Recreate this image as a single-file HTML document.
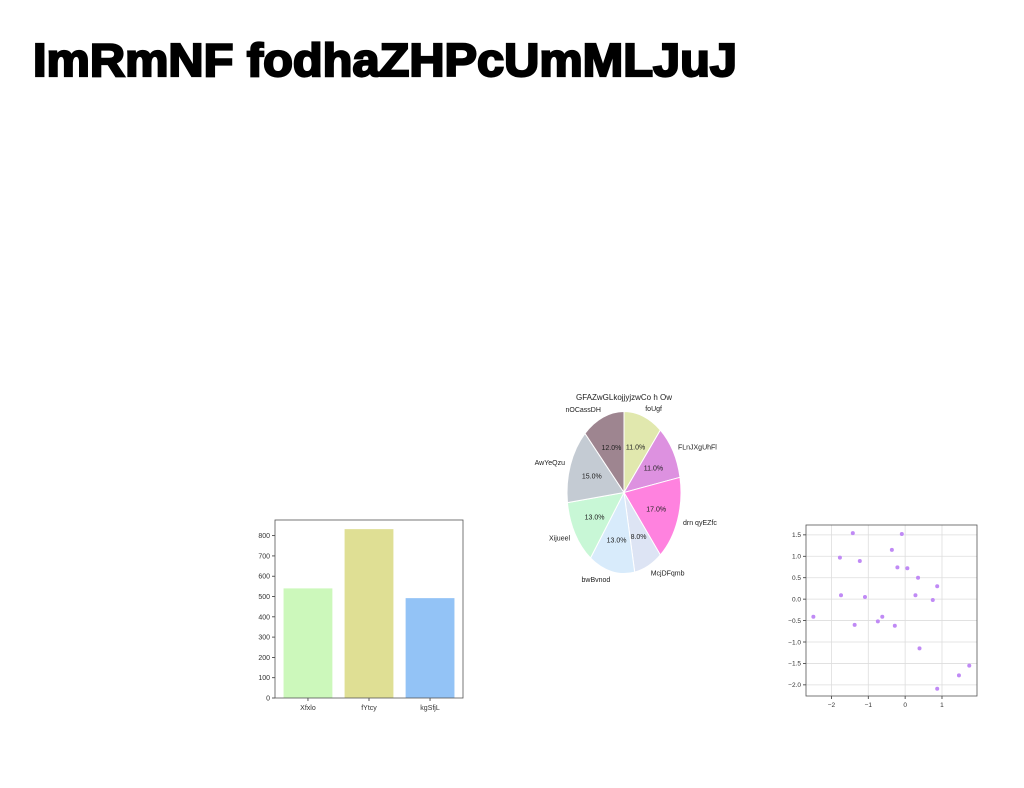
<!DOCTYPE html>
<html><head><meta charset="utf-8"><style>
body{margin:0;background:#fff;}
svg{display:block;font-family:"Liberation Sans",sans-serif;}
</style></head><body>
<svg width="1024" height="788" viewBox="0 0 1024 788">
<text x="33" y="76" font-size="46" font-weight="bold" stroke="#000" stroke-width="2.2" textLength="704" lengthAdjust="spacingAndGlyphs">ImRmNF fodhaZHPcUmMLJuJ</text>
<g id="bar"></g>
<g id="pie"></g>
<g id="sc"></g>
</svg>
<script>
const barCats=["Xfxlo","fYtcy","kgSfjL"];
const barVals=[540,832,492];
const barColors=["#ccf8bb","#dfdf94","#93c3f6"];
const barTicks=[0,100,200,300,400,500,600,700,800];
const pieLabels=["foUgf","FLnJXgUhFl","drn qyEZfc","McjDFqmb","bwBvnod","Xijueel","AwYeQzu","nOCassDH"];
const pieVals=[11,11,17,8,13,13,15,12];
const pieColors=["#e1e8ae","#dd91e0","#ff82df","#dde4f4","#d8ebfb","#c8f7d6","#c4cbd3","#9e8590"];
const scX=[-2.49,-1.77,-1.74,-1.42,-1.37,-1.23,-1.09,-0.74,-0.62,-0.36,-0.28,-0.21,-0.09,0.06,0.28,0.35,0.39,0.75,0.87,0.87,1.46,1.74];
const scY=[-0.41,0.97,0.09,1.54,-0.60,0.89,0.05,-0.52,-0.41,1.15,-0.62,0.74,1.52,0.72,0.09,0.50,-1.15,-0.02,0.30,-2.09,-1.78,-1.55];
const scXTicks=[-2,-1,0,1];
const scYTicks=[-2.0,-1.5,-1.0,-0.5,0.0,0.5,1.0,1.5];
const NS="http://www.w3.org/2000/svg";
function mk(p,t,a,txt){const e=document.createElementNS(NS,t);for(const k in a)e.setAttribute(k,a[k]);if(txt!==undefined)e.textContent=txt;p.appendChild(e);return e;}
// Bar chart
(function(){
const g=document.getElementById('bar');
const L=275,R=463,T=520,B=698;
const xs=i=>L+(i+0.54)*(R-L)/3.08;
const ys=v=>B-v*(B-T)/877;
const bw=0.8*(R-L)/3.08;
barTicks.forEach(t=>{
 const y=ys(t);
 const l=mk(g,'line',{x1:L-3,x2:L,y1:y,y2:y,stroke:'#333','stroke-width':0.8});
 
 
 const tx=mk(g,'text',{x:L-5,y:y+2.5,'font-size':7,'text-anchor':'end',fill:'#333'},String(t));
 
 
});
barVals.forEach((v,i)=>{
 const r=mk(g,'rect',{x:xs(i)-bw/2,y:ys(v),width:bw,height:B-ys(v),fill:barColors[i]});
 
 
 mk(g,'line',{x1:xs(i),x2:xs(i),y1:B,y2:B+3,stroke:'#333','stroke-width':0.8});
 const tx=mk(g,'text',{x:xs(i),y:B+12,'font-size':7,'text-anchor':'middle',fill:'#333'},barCats[i]);
 
 
});
const f=mk(g,'rect',{x:L,y:T,width:R-L,height:B-T,fill:'none',stroke:'#555','stroke-width':0.8});


})();
// Pie chart (horizontally squeezed ellipse)
(function(){
const g=document.getElementById('pie');
const cx=624,cy=492.5,ry=81,rx=57;
const tt=mk(g,'text',{x:cx,y:400,'font-size':8,'text-anchor':'middle',fill:'#222'},"GFAZwGLkojjyjzwCo h Ow");


const tot=pieVals.reduce((a,b)=>a+b,0);
let a0=-Math.PI/2;
pieVals.forEach((v,i)=>{
 const da=v/tot*2*Math.PI,a1=a0+da,am=a0+da/2;
 const p=`M${cx},${cy} L${cx+rx*Math.cos(a0)},${cy+ry*Math.sin(a0)} A${rx},${ry} 0 ${da>Math.PI?1:0} 1 ${cx+rx*Math.cos(a1)},${cy+ry*Math.sin(a1)} Z`;
 const s=mk(g,'path',{d:p,fill:pieColors[i],stroke:'#fff','stroke-width':1});
 
 
 const pt=mk(g,'text',{x:cx+0.6*rx*Math.cos(am),y:cy+0.6*ry*Math.sin(am)+2.5,'font-size':7,'text-anchor':'middle',fill:'#222'},(v/tot*100).toFixed(1)+'%');
 
 
 const lx=cx+1.1*rx*Math.cos(am),ly=cy+1.1*ry*Math.sin(am);
 const lt=mk(g,'text',{x:lx,y:ly+2.5,'font-size':7,'text-anchor':Math.cos(am)>0.05?'start':(Math.cos(am)<-0.05?'end':'middle'),fill:'#222'},pieLabels[i]);
 
 
 a0=a1;
});
})();
// Scatter
(function(){
const g=document.getElementById('sc');
const L=806,R=977,T=525,B=696;
const x0=-2.69,x1=1.95,y0=-2.26,y1=1.73;
const xs=v=>L+(v-x0)/(x1-x0)*(R-L);
const ys=v=>B-(v-y0)/(y1-y0)*(B-T);
scXTicks.forEach(t=>{
 mk(g,'line',{x1:xs(t),x2:xs(t),y1:T,y2:B,stroke:'#ddd','stroke-width':0.8});
 mk(g,'line',{x1:xs(t),x2:xs(t),y1:B,y2:B+3,stroke:'#333','stroke-width':0.8});
 const tx=mk(g,'text',{x:xs(t),y:B+11,'font-size':6.5,'text-anchor':'middle',fill:'#333'},t<0?'\u2212'+(-t):String(t));
 
 
});
scYTicks.forEach(t=>{
 mk(g,'line',{x1:L,x2:R,y1:ys(t),y2:ys(t),stroke:'#ddd','stroke-width':0.8});
 mk(g,'line',{x1:L-3,x2:L,y1:ys(t),y2:ys(t),stroke:'#333','stroke-width':0.8});
 const s=t.toFixed(1);
 const tx=mk(g,'text',{x:L-5,y:ys(t)+2.3,'font-size':6.5,'text-anchor':'end',fill:'#333'},t<0?'\u2212'+s.slice(1):s);
 
 
});
scX.forEach((x,i)=>{
 const c=mk(g,'circle',{cx:xs(x),cy:ys(scY[i]),r:2,fill:'#c08af5'});
 
 
});
const f=mk(g,'rect',{x:L,y:T,width:R-L,height:B-T,fill:'none',stroke:'#555','stroke-width':0.8});


})();
</script>
</body></html>
